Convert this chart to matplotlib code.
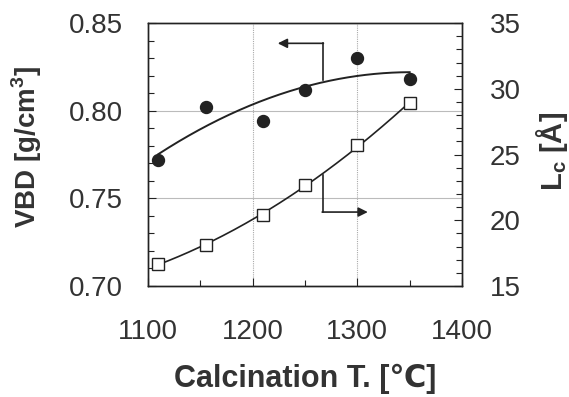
import numpy as np
import matplotlib
matplotlib.use("Agg")
import matplotlib.pyplot as plt
from matplotlib.ticker import MultipleLocator

plt.rcParams['font.family'] = ['Liberation Sans', 'DejaVu Sans']

temps = [1110, 1155, 1210, 1250, 1300, 1350]
vbd = [0.772, 0.802, 0.794, 0.812, 0.830, 0.818]
lc = [16.7, 18.1, 20.4, 22.7, 25.7, 28.9]

xticks = [1100, 1200, 1300, 1400]
yticks_left = [0.70, 0.75, 0.80, 0.85]
yticks_right = [15, 20, 25, 30, 35]

ink = '#222222'
txt = '#333333'

fig = plt.figure(figsize=(5.69, 3.97), dpi=100)
ax = fig.add_axes([0.260, 0.2796, 0.552, 0.662])
ax2 = ax.twinx()

ax.set_xlim(1100, 1400)
ax.set_ylim(0.70, 0.85)
ax2.set_ylim(15, 35)

# grid
for x in (1200, 1300):
    ax.axvline(x, color='#aaaaaa', lw=0.8, ls=(0, (1, 1)), zorder=0)
for y in (0.75, 0.80):
    ax.axhline(y, color='#bbbbbb', lw=0.8, zorder=0)

# fits
xf = np.linspace(temps[0], temps[-1], 200)
p1 = np.polyfit(temps, vbd, 2)
p2 = np.polyfit(temps, lc, 2)
ax.plot(xf, np.polyval(p1, xf), color=ink, lw=1.4, zorder=2)
ax2.plot(xf, np.polyval(p2, xf), color=ink, lw=1.2, zorder=2)

ax.plot(temps, vbd, 'o', color=ink, ms=8.6, zorder=3)
ax2.plot(temps, lc, 's', mfc='white', mec=ink, mew=1.0, ms=8, zorder=3)

# arrows
ax.plot([1267, 1267], [0.8175, 0.8385], color=ink, lw=1.2)
ax.annotate('', xy=(1224, 0.8385), xytext=(1267.6, 0.8385),
            arrowprops=dict(arrowstyle='-|>', color=ink, lw=1.2,
                            mutation_scale=14, shrinkA=0, shrinkB=0))
ax.plot([1267, 1267], [0.7635, 0.7422], color=ink, lw=1.2)
ax.annotate('', xy=(1310, 0.7422), xytext=(1266.4, 0.7422),
            arrowprops=dict(arrowstyle='-|>', color=ink, lw=1.2,
                            mutation_scale=14, shrinkA=0, shrinkB=0))

ax.set_xticks(xticks)
ax.set_yticks(yticks_left)
ax.set_yticklabels([f'{v:.2f}' for v in yticks_left])
ax2.set_yticks(yticks_right)
ax.xaxis.set_minor_locator(MultipleLocator(50))
ax.yaxis.set_minor_locator(MultipleLocator(0.01))
ax2.yaxis.set_minor_locator(MultipleLocator(1))

for a in (ax, ax2):
    a.tick_params(which='both', direction='in', colors=ink, labelcolor=txt,
                  labelsize=20)
    a.tick_params(which='major', length=6, width=0.8)
    a.tick_params(which='minor', length=4, width=0.8)
    for s in a.spines.values():
        s.set_color(ink)
        s.set_linewidth(1.0)
ax.tick_params(axis='x', pad=24)
ax.tick_params(axis='y', pad=18)
ax2.tick_params(axis='y', pad=20)

ax.set_xlabel('Calcination T. [\u2103]', fontsize=22, fontweight='bold', color=txt,
              ha='center', va='center')
ax.xaxis.set_label_coords(0.5, -0.352)
ax.set_ylabel('VBD [g/cm$^\\mathregular{3}$]', fontsize=20, fontweight='bold', color=txt,
              ha='center', va='center', rotation=90)
ax.yaxis.set_label_coords(-0.385, 0.528)
ax2.set_ylabel('L$_\\mathregular{c}$ [Å]', fontsize=21, fontweight='bold', color=txt,
               ha='center', va='center', rotation=90)
ax2.yaxis.set_label_coords(1.285, 0.51)

fig.savefig('out.png', dpi=100)
